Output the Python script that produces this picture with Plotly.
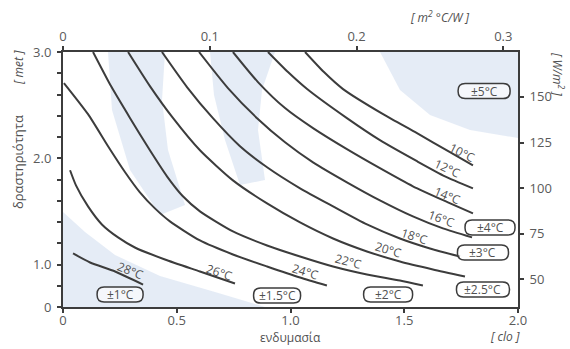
import plotly.graph_objects as go

# ---------------- data (clo on x, met on y) ----------------
temps = ["10°C", "12°C", "14°C", "16°C", "18°C", "20°C", "22°C", "24°C", "26°C", "28°C"]

clo_10 = [1.064, 1.147, 1.231, 1.407, 1.556, 1.701, 1.802]
met_10 = [3.000, 2.811, 2.651, 2.415, 2.236, 2.057, 1.934]

clo_12 = [0.901, 0.989, 1.073, 1.248, 1.393, 1.556, 1.679, 1.802]
met_12 = [3.000, 2.811, 2.651, 2.377, 2.170, 1.972, 1.830, 1.717]

clo_14 = [0.747, 0.857, 0.976, 1.099, 1.248, 1.393, 1.538, 1.692, 1.802]
met_14 = [3.000, 2.717, 2.472, 2.283, 2.085, 1.906, 1.736, 1.585, 1.481]

clo_16 = [0.598, 0.725, 0.853, 0.976, 1.099, 1.248, 1.393, 1.538, 1.670, 1.798]
met_16 = [3.000, 2.660, 2.377, 2.151, 1.962, 1.774, 1.604, 1.453, 1.340, 1.255]

clo_18 = [0.435, 0.545, 0.659, 0.778, 0.897, 1.042, 1.187, 1.336, 1.481, 1.613, 1.745]
met_18 = [3.000, 2.670, 2.377, 2.113, 1.915, 1.717, 1.547, 1.377, 1.245, 1.151, 1.075]

clo_20 = [0.286, 0.382, 0.484, 0.602, 0.747, 0.897, 1.042, 1.187, 1.336, 1.481, 1.626, 1.767]
met_20 = [3.000, 2.679, 2.377, 2.075, 1.792, 1.575, 1.396, 1.245, 1.123, 1.028, 0.953, 0.887]

clo_22 = [0.132, 0.211, 0.295, 0.382, 0.457, 0.527, 0.602, 0.747, 0.897, 1.042, 1.187, 1.336, 1.481, 1.582]
met_22 = [3.000, 2.679, 2.377, 2.075, 1.830, 1.642, 1.500, 1.311, 1.179, 1.075, 0.981, 0.906, 0.849, 0.802]

clo_24 = [0.004, 0.110, 0.198, 0.273, 0.338, 0.404, 0.470, 0.602, 0.747, 0.897, 1.042, 1.160]
met_24 = [2.708, 2.415, 2.113, 1.868, 1.679, 1.528, 1.406, 1.226, 1.094, 0.981, 0.877, 0.802]

clo_26 = [0.031, 0.057, 0.110, 0.171, 0.242, 0.316, 0.448, 0.602, 0.756]
met_26 = [1.887, 1.745, 1.547, 1.377, 1.255, 1.160, 1.047, 0.934, 0.821]

clo_28 = [0.044, 0.119, 0.229, 0.352]
met_28 = [1.104, 1.019, 0.934, 0.811]

tolerances = ["±1°C", "±1.5°C", "±2°C", "±2.5°C", "±3°C", "±4°C", "±5°C"]

x_ticks = [0, 0.5, 1.0, 1.5, 2.0]
x_ticktext = ["0", "0.5", "1.0", "1.5", "2.0"]
x2_ticks = [0, 0.1, 0.2, 0.3]
x2_ticktext = ["0", "0.1", "0.2", "0.3"]
y_ticks = [0.6, 1.0, 2.0, 3.0]
y_ticktext = ["0", "1.0", "2.0", "3.0"]
y_minor_step = 0.2
y2_ticks = [50, 75, 100, 125, 150]

CLO_TO_M2CW = 0.155
MET_TO_WM2 = 58.2

curves = [(clo_10, met_10), (clo_12, met_12), (clo_14, met_14), (clo_16, met_16),
          (clo_18, met_18), (clo_20, met_20), (clo_22, met_22), (clo_24, met_24),
          (clo_26, met_26), (clo_28, met_28)]

# ---------------- style / placement ----------------
LINE = "#3c3c3c"
TXT = "#505050"
FONT = "Open Sans"

W, H = 570, 349
L, R, T, B = 63, 52, 52, 42
pw, ph = W - L - R, H - T - B
XMAX, YMIN, YMAX = 2.0, 0.6, 3.0

def px2d(px, py):
    return (px - L) / pw * XMAX, YMAX - (py - T) / ph * (YMAX - YMIN)

label_pos = [(1.754, 2.057, 27), (1.692, 1.906, 25), (1.688, 1.651, 22), (1.662, 1.434, 20),
             (1.547, 1.264, 18), (1.429, 1.142, 17), (1.257, 1.028, 15), (1.064, 0.934, 17),
             (0.690, 0.925, 19), (0.295, 0.943, 22)]
box_pos = [(0.251, 0.717, 46), (0.941, 0.708, 47), (1.429, 0.717, 49), (1.846, 0.764, 53),
           (1.846, 1.113, 51), (1.877, 1.349, 50), (1.851, 2.632, 52)]

fig = go.Figure()

# faint bluish background blobs (scan shading) -- decoration, pixel outlines
blob_fill = "rgba(225,233,245,0.85)"
blob_px = [
    [(108, 52), (165, 52), (162, 100), (168, 150), (185, 205), (160, 215), (130, 170), (112, 110)],
    [(210, 52), (275, 52), (262, 90), (258, 130), (265, 180), (240, 185), (225, 140), (214, 95)],
    [(380, 52), (518, 52), (518, 138), (470, 130), (430, 115), (400, 90)],
    [(63, 212), (85, 232), (115, 255), (160, 276), (215, 292), (265, 307), (63, 307)],
]
shapes = []
for poly in blob_px:
    pts = [px2d(x, y) for x, y in poly]
    path = "M " + " L ".join(f"{x:.4f},{y:.4f}" for x, y in pts) + " Z"
    shapes.append(dict(type="path", path=path, xref="x", yref="y", fillcolor=blob_fill,
                       line=dict(width=0), layer="below"))

for (cx, cy), name in zip(curves, temps):
    fig.add_trace(go.Scatter(x=cx, y=cy, mode="lines", name=name,
                             line=dict(color=LINE, width=2, shape="spline", smoothing=0.6),
                             showlegend=False, hoverinfo="skip"))

# empty trace to instantiate secondary axes
fig.add_trace(go.Scatter(x=[], y=[], xaxis="x2", yaxis="y2", showlegend=False))

annotations = []
for name, (lx, ly, ang) in zip(temps, label_pos):
    annotations.append(dict(x=lx, y=ly, xref="x", yref="y", text=name, showarrow=False,
                            textangle=ang, font=dict(family=FONT, size=12, color=TXT)))

def rounded(w, h, r):
    a, b = w / 2, h / 2
    return (f"M {-a+r},{-b} L {a-r},{-b} Q {a},{-b} {a},{-b+r} L {a},{b-r} Q {a},{b} {a-r},{b} "
            f"L {-a+r},{b} Q {-a},{b} {-a},{b-r} L {-a},{-b+r} Q {-a},{-b} {-a+r},{-b} Z")

for name, (bx, by, w) in zip(tolerances, box_pos):
    annotations.append(dict(x=bx, y=by, xref="x", yref="y", text=name, showarrow=False,
                            font=dict(family=FONT, size=12, color=TXT)))
    shapes.append(dict(type="path", xref="x", yref="y", xsizemode="pixel", ysizemode="pixel",
                       xanchor=bx, yanchor=by, path=rounded(w, 15, 7),
                       line=dict(color=LINE, width=1.5), fillcolor="rgba(255,255,255,0.6)"))

# axis titles / units (pixel positions in the window)
titles = [
    (18, 162, "δραστηριότητα", -90, 13),
    (18, 68, "<i>[ met ]</i>", -90, 12),
    (290, 337, "ενδυμασία", 0, 12),
    (505, 336, "<i>[ clo ]</i>", 0, 12),
    (440, 17, "<i>[ m<sup>2</sup> °C/W ]</i>", 0, 12),
    (558, 74, "<i>[ W/m<sup>2</sup> ]</i>", 90, 12),
]
for tx, ty, text, ang, size in titles:
    annotations.append(dict(x=(tx - L) / pw, y=1 - (ty - T) / ph, xref="paper", yref="paper",
                            text=text, showarrow=False, textangle=ang,
                            xanchor="center", yanchor="middle",
                            font=dict(family=FONT, size=size, color=TXT)))

axis_common = dict(showline=True, linecolor=LINE, linewidth=2, ticks="outside",
                   ticklen=4, tickwidth=1.5, tickcolor=LINE, showgrid=False, zeroline=False,
                   tickfont=dict(family=FONT, size=13, color="#5a5a5a"))

fig.update_layout(
    width=W, height=H,
    margin=dict(l=L, r=R, t=T, b=B),
    paper_bgcolor="white", plot_bgcolor="white",
    showlegend=False,
    xaxis=dict(range=[0, XMAX], tickmode="array", tickvals=x_ticks, ticktext=x_ticktext,
               ticklabelstandoff=-4, **axis_common),
    yaxis=dict(range=[YMIN, YMAX], tickmode="array", tickvals=y_ticks, ticktext=y_ticktext,
               ticklabelstandoff=3,
               minor=dict(ticks="outside", tick0=YMIN, dtick=y_minor_step, ticklen=4,
                          tickwidth=1.5, tickcolor=LINE, showgrid=False),
               **axis_common),
    xaxis2=dict(overlaying="x", side="top", anchor="y",
                range=[0, XMAX * CLO_TO_M2CW], tickmode="array", tickvals=x2_ticks,
                ticktext=x2_ticktext, **axis_common),
    yaxis2=dict(overlaying="y", side="right", anchor="x",
                range=[YMIN * MET_TO_WM2, YMAX * MET_TO_WM2], tickmode="array",
                tickvals=y2_ticks, ticklabelstandoff=3, **axis_common),
    annotations=annotations,
    shapes=shapes,
)

fig.write_html("out.html", config={"displayModeBar": False},
               post_script="document.body.style.margin='0';")
